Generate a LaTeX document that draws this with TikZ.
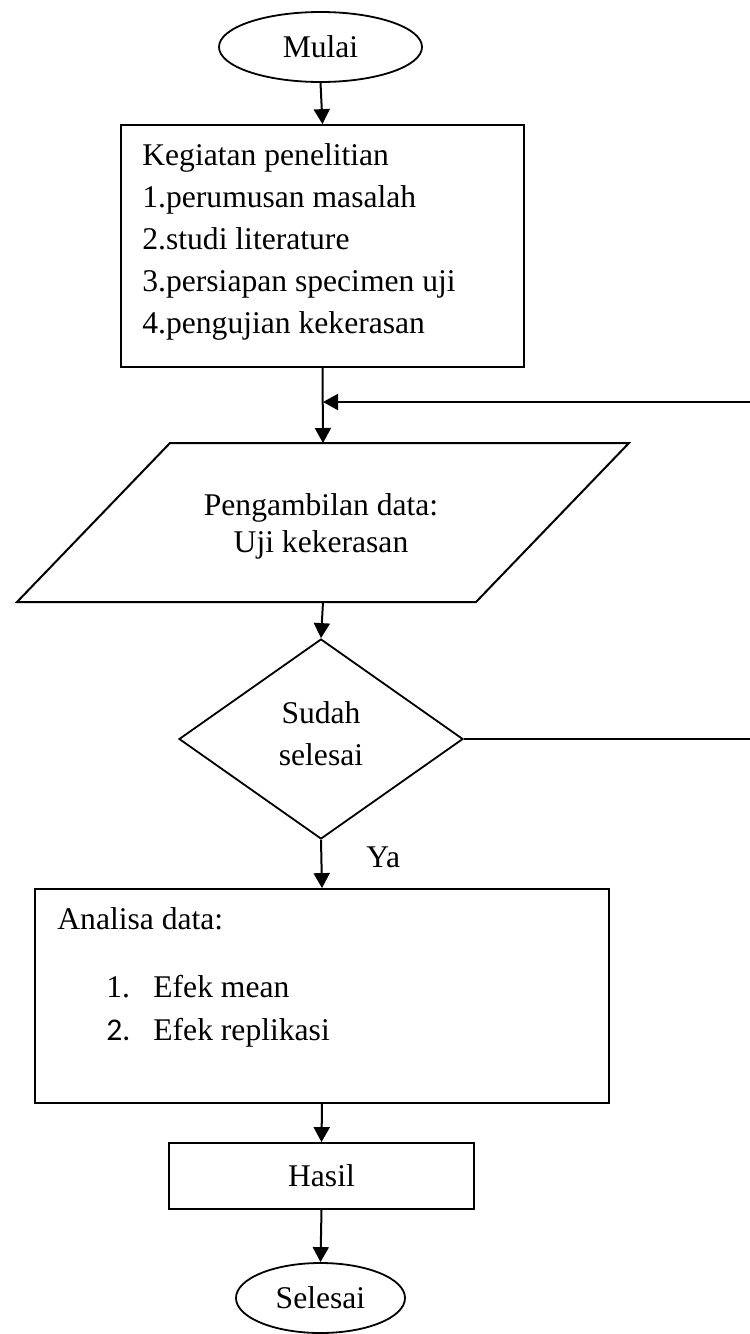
\documentclass[tikz,border=0pt]{standalone}
\usepackage{fontspec}
\setmainfont{Liberation Serif}
\newfontfamily\calib{Carlito}
\usetikzlibrary{arrows.meta,shapes.geometric}
\tikzset{
 every node/.style={font=\fontsize{15.8pt}{21pt}\selectfont, inner sep=0pt},
 ln/.style={line width=1pt},
 arr/.style={line width=1pt, -{Triangle[length=7.5pt,width=8pt]}},
 term/.style={ellipse, draw, line width=0.9pt},
 boxnode/.style={rectangle, draw, line width=0.9pt},
 dec/.style={diamond, draw, line width=0.9pt},
 txt/.style={anchor=base west},
 ctxt/.style={anchor=base},
}
\begin{document}
\begin{tikzpicture}[x=0.5pt,y=-0.5pt]
\useasboundingbox (0,0) rectangle (750,1334);
\clip (0,0) rectangle (750,1334);
% start
\node[term, minimum width=101.5pt, minimum height=35pt] (mulai) at (320.5,47) {Mulai};
% activities box
\node[boxnode, minimum width=201.5pt, minimum height=121pt] (keg) at (322.5,246) {};
\node[txt] (k0) at (142,165) {Kegiatan penelitian};
\node[txt] (k1) at (142,207) {1.perumusan masalah};
\node[txt] (k2) at (142,249) {2.studi literature};
\node[txt] (k3) at (142,291) {3.persiapan specimen uji};
\node[txt] (k4) at (142,333) {4.pengujian kekerasan};
% parallelogram
\coordinate (pTL) at (170,443);
\coordinate (pTR) at (629,443);
\coordinate (pBR) at (476,602);
\coordinate (pBL) at (17,602);
\draw[ln] (pTL) -- (pTR) -- (pBR) -- (pBL) -- cycle;
\coordinate (ptop) at (323,443);
\coordinate (pbot) at (323,602);
\node[ctxt] (p1) at (321,515) {Pengambilan data:};
\node[ctxt] (p2) at (321,552) {Uji kekerasan};
% decision
\node[dec, minimum width=142pt, minimum height=100pt] (dia) at (321,739) {};
\node[ctxt] (d1) at (321,723) {Sudah};
\node[ctxt] (d2) at (321,765) {selesai};
\node[txt] (ya) at (366,867) {Ya};
% analysis box
\node[boxnode, minimum width=287pt, minimum height=107pt] (ana) at (322,996) {};
\node[txt] (a0) at (57,929) {Analisa data:};
\node[txt] (a1n) at (106,997) {1.};
\node[txt] (a1) at (153,997) {Efek mean};
\node[txt] (a2n) at (106,1040) {\calib 2.};
\node[txt] (a2) at (153,1040) {Efek replikasi};
% result
\node[boxnode, minimum width=152.5pt, minimum height=33pt] (hasil) at (321.5,1176) {Hasil};
% end
\node[term, minimum width=84.5pt, minimum height=35pt] (selesai) at (320.5,1298) {Selesai};
% connectors
\draw[arr] (mulai.south) -- (keg.north);
\draw[arr] (keg.south) -- (ptop);
\coordinate (join) at (323,402);
\coordinate (rB) at (753,739);
\coordinate (rT) at (753,402);
\draw[ln] (dia.east) -- (rB) -- (rT);
\draw[arr] (rT) -- (join);
\draw[arr] (pbot) -- (dia.north);
\draw[arr] (dia.south) -- (ana.north);
\draw[arr] (ana.south) -- (hasil.north);
\draw[arr] (hasil.south) -- (selesai.north);
\end{tikzpicture}
\end{document}
